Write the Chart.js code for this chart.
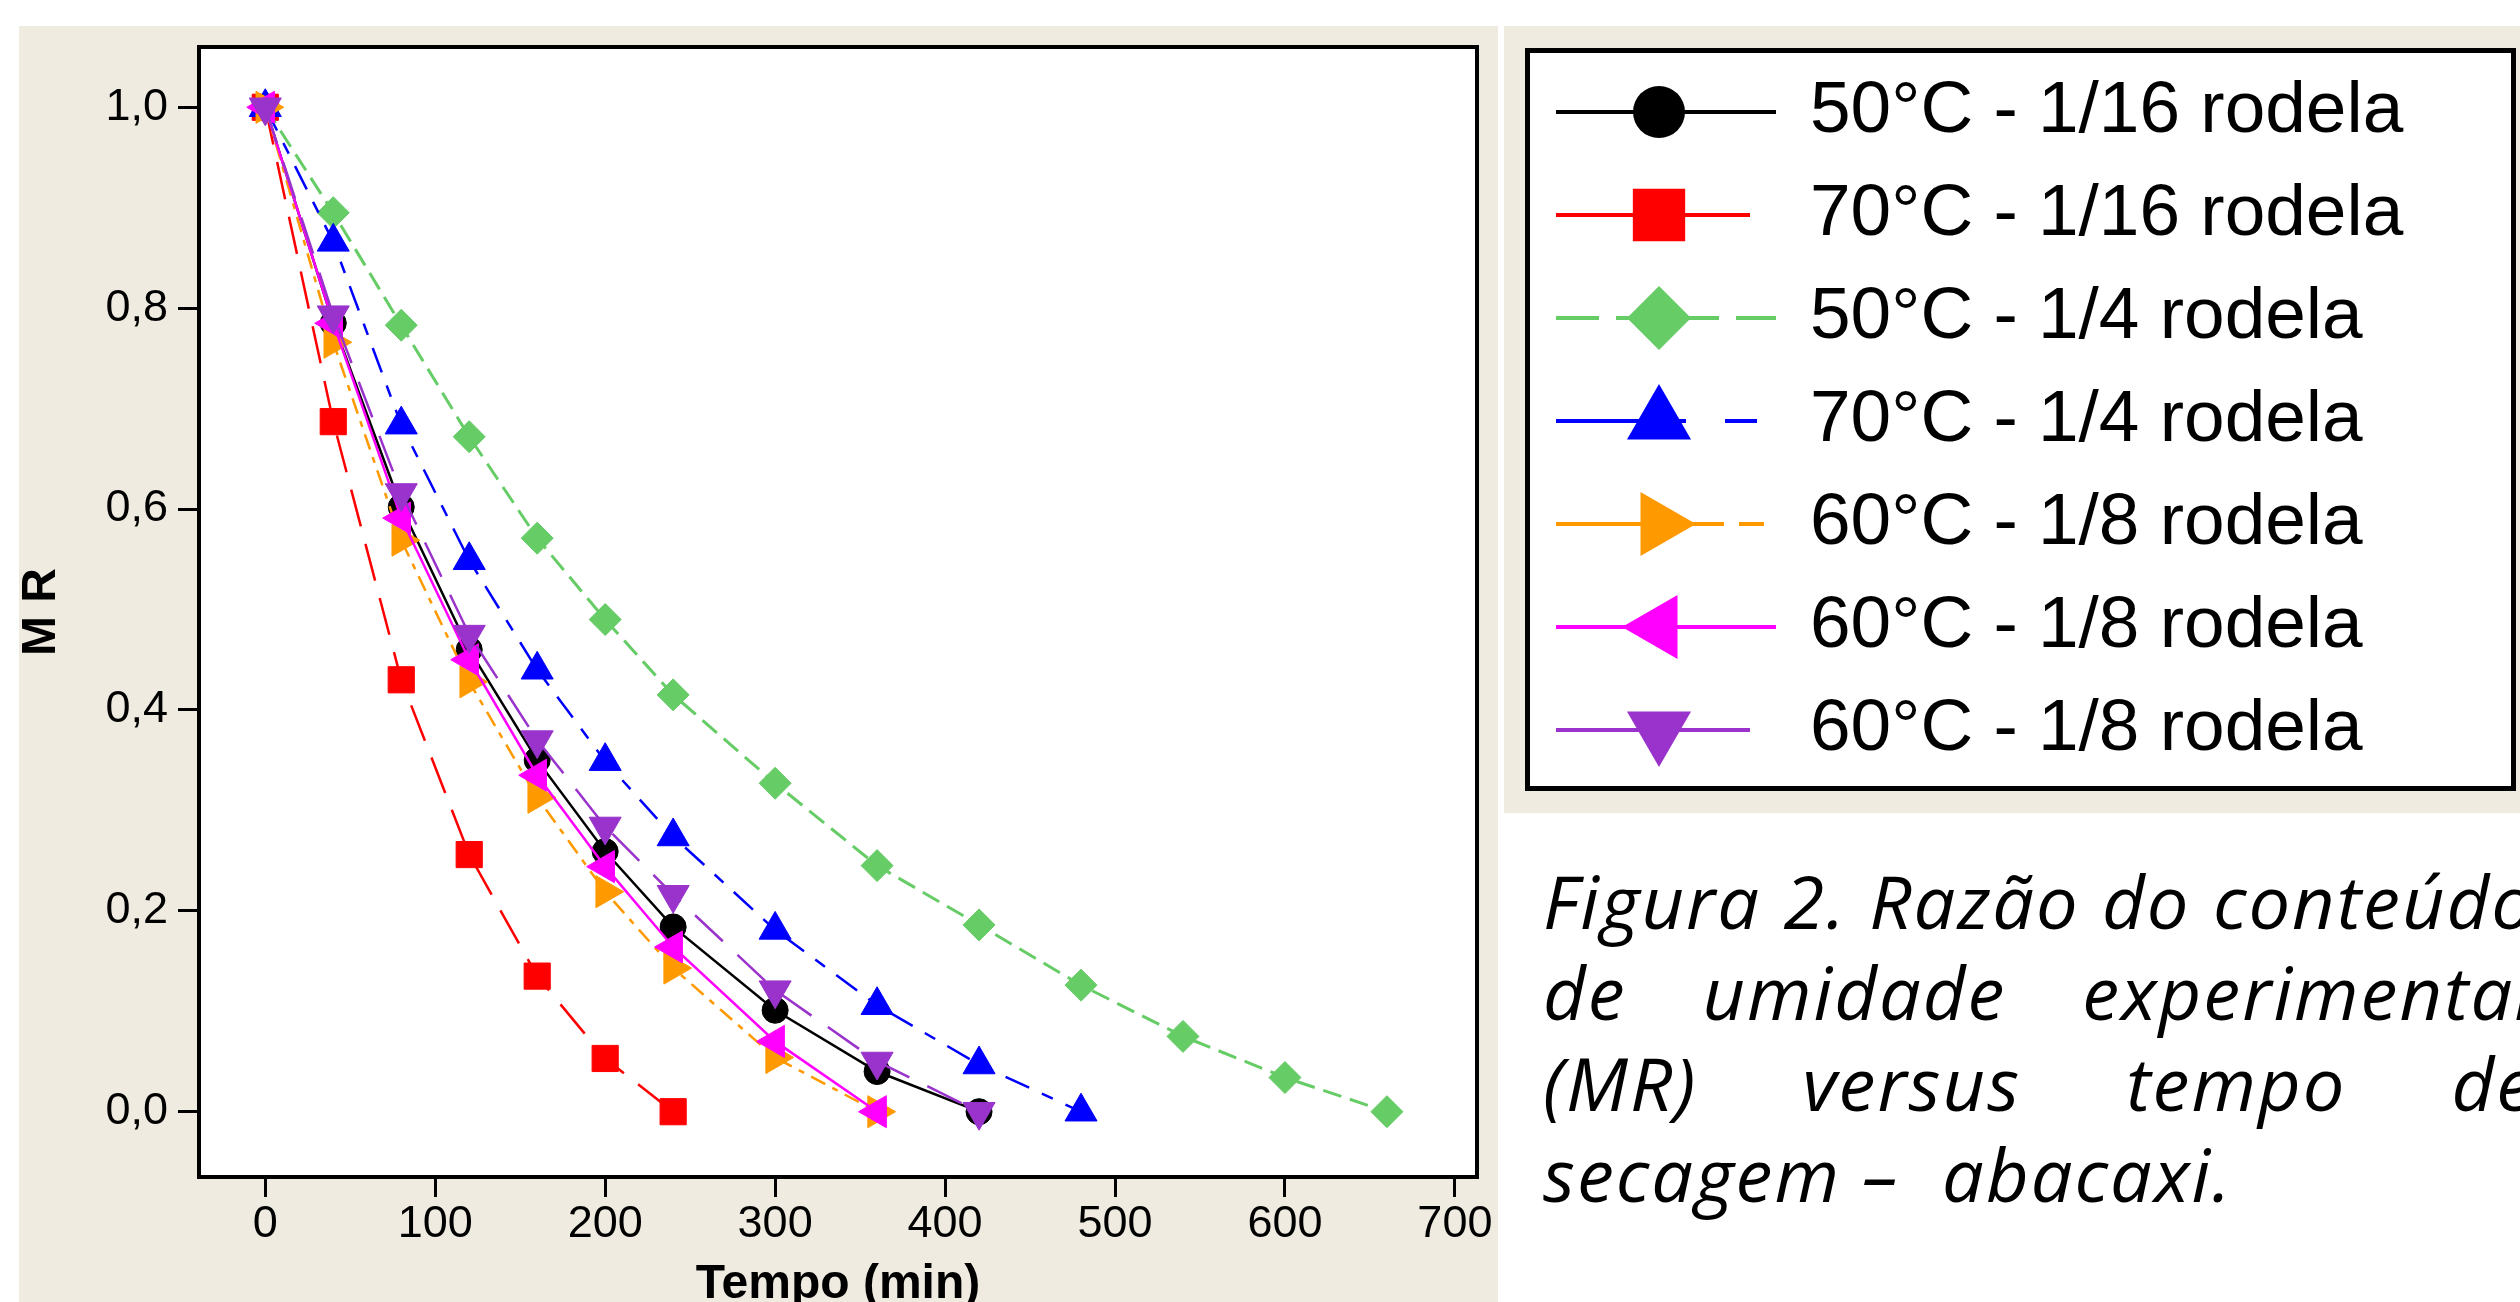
<!DOCTYPE html>
<html lang="pt">
<head>
<meta charset="utf-8">
<title>Figura 2 - MR versus tempo de secagem</title>
<script src="https://cdn.jsdelivr.net/npm/chart.js@4.4.1/dist/chart.umd.min.js"></script>
<style>
  html, body { margin: 0; padding: 0; background: #ffffff; overflow: hidden; }
  body { width: 2520px; height: 1302px; position: relative; }
  #grafico { position: absolute; left: 0; top: 0; }
  .legenda-fig {
    position: absolute; left: 1543px; top: 855px; width: 992px;
    font-family: "Open Sans", sans-serif; font-style: italic;
    font-size: 74px; line-height: 91px; letter-spacing: 2px; color: #000;
  }
  .legenda-fig div { white-space: nowrap; text-align: justify; text-align-last: justify; }
  .legenda-fig div.ultima { text-align-last: left; }
</style>
</head>
<body>
<canvas id="grafico" width="2520" height="1330"></canvas>
<div class="legenda-fig">
  <div>Figura 2. Razão do conteúdo</div>
  <div>de umidade experimental</div>
  <div>(MR) versus tempo de</div>
  <div class="ultima">secagem –&nbsp; abacaxi.</div>
</div>
<script>
// tempos de leitura (min)
var tempo = [0, 40, 80, 120, 160, 200, 240, 300, 360, 420, 480, 540, 600, 660];

// razao de umidade (MR)
var mr50_116 = [1.0, 0.785, 0.602, 0.460, 0.350, 0.259, 0.184, 0.101, 0.040, 0.0];
var mr70_116 = [1.0, 0.687, 0.430, 0.256, 0.135, 0.053, 0.0];
var mr50_14 = [1.0, 0.895, 0.783, 0.672, 0.571, 0.490, 0.415, 0.327, 0.245, 0.186, 0.126, 0.075, 0.034, 0.0];
var mr70_14 = [1.0, 0.866, 0.684, 0.549, 0.440, 0.349, 0.274, 0.181, 0.106, 0.047, 0.0];
var mr60_18a = [1.0, 0.766, 0.569, 0.428, 0.313, 0.219, 0.143, 0.054, 0.0];
var mr60_18b = [1.0, 0.785, 0.591, 0.450, 0.335, 0.244, 0.164, 0.070, 0.0];
var mr60_18c = [1.0, 0.793, 0.616, 0.475, 0.370, 0.284, 0.216, 0.121, 0.050, 0.0];

var rotulos = [
    '50°C - 1/16 rodela',
    '70°C - 1/16 rodela',
    '50°C - 1/4 rodela',
    '70°C - 1/4 rodela',
    '60°C - 1/8 rodela',
    '60°C - 1/8 rodela',
    '60°C - 1/8 rodela'
];

var xTicks = [0, 100, 200, 300, 400, 500, 600, 700];
var yTicks = [0, 0.2, 0.4, 0.6, 0.8, 1.0];
var yTickLabels = ['0,0', '0,2', '0,4', '0,6', '0,8', '1,0'];

var BEGE = '#EFEBE1';
var FONTE = '"Liberation Sans", Arial, sans-serif';

function pontos(mr) {
    return mr.map(function (v, i) {
        return { x: tempo[i], y: v };
    });
}

function serie(label, mr, cor, opts) {
    return Object.assign({
        label: label,
        data: pontos(mr),
        showLine: true,
        tension: 0,
        borderColor: cor,
        backgroundColor: cor,
        pointBackgroundColor: cor,
        pointBorderColor: cor,
        pointBorderWidth: 1,
        borderWidth: 2.5,
        borderDash: [],
        pointRotation: 0,
        legendDash: [],
        legendEnd: 1776
    }, opts);
}

var datasets = [
    serie(rotulos[0], mr50_116, '#000000', { pointStyle: 'circle', pointRadius: 13, order: 6 }),
    serie(rotulos[1], mr70_116, '#FF0000', { pointStyle: 'rect', pointRadius: 18.5, borderDash: [38, 18], legendEnd: 1750, order: 5 }),
    serie(rotulos[2], mr50_14, '#66CC66', { pointStyle: 'rectRot', pointRadius: 16, borderWidth: 3, borderDash: [19, 9], legendDash: [43, 17], order: 4 }),
    serie(rotulos[3], mr70_14, '#0000FF', { pointStyle: 'triangle', pointRadius: 18.5, borderDash: [26, 14, 12, 14], legendDash: [130, 39, 32, 100], order: 3 }),
    serie(rotulos[4], mr60_18a, '#FF9900', { pointStyle: 'triangle', pointRotation: 90, pointRadius: 18.5, borderDash: [16, 8, 6, 8], legendDash: [168, 15, 25, 100], order: 2 }),
    serie(rotulos[5], mr60_18b, '#FF00FF', { pointStyle: 'triangle', pointRotation: -90, pointRadius: 18.5, order: 1 }),
    serie(rotulos[6], mr60_18c, '#9933CC', { pointStyle: 'triangle', pointRotation: 180, pointRadius: 18.5, borderDash: [38, 20], legendEnd: 1750, order: 0 })
];

var moldura = {
    id: 'moldura',
    beforeDraw: function (chart) {
        var ctx = chart.ctx;
        var a = chart.chartArea;
        ctx.save();
        ctx.fillStyle = '#ffffff';
        ctx.fillRect(0, 0, chart.width, chart.height);
        ctx.fillStyle = BEGE;
        ctx.fillRect(19, 26, 1479, chart.height - 26);
        ctx.fillRect(1504, 26, chart.width - 1504, 787);
        ctx.fillStyle = '#ffffff';
        ctx.fillRect(a.left, a.top, a.right - a.left, a.bottom - a.top);
        ctx.restore();
    },
    afterDraw: function (chart) {
        var ctx = chart.ctx;
        var a = chart.chartArea;
        ctx.save();
        ctx.strokeStyle = '#000000';
        ctx.lineWidth = 4;
        ctx.strokeRect(a.left, a.top, a.right - a.left, a.bottom - a.top);

        // caixa da legenda
        ctx.fillStyle = '#ffffff';
        ctx.fillRect(1525, 48, 991, 743);
        ctx.lineWidth = 5;
        ctx.strokeRect(1527.5, 50.5, 986, 738);

        chart.data.datasets.forEach(function (ds, i) {
            var y = 112 + i * 103;
            ctx.lineWidth = 4;
            ctx.strokeStyle = ds.borderColor;
            ctx.setLineDash(ds.legendDash);
            ctx.beginPath();
            ctx.moveTo(1556, y);
            ctx.lineTo(ds.legendEnd, y);
            ctx.stroke();
            ctx.setLineDash([]);
            ctx.fillStyle = ds.pointBackgroundColor;
            Chart.helpers.drawPoint(ctx, {
                pointStyle: ds.pointStyle,
                rotation: ds.pointRotation,
                radius: ds.pointRadius * 2,
                borderWidth: 0
            }, 1659, y);
            ctx.fillStyle = '#000000';
            ctx.font = '73px ' + FONTE;
            ctx.textBaseline = 'middle';
            ctx.textAlign = 'left';
            ctx.fillText(ds.label, 1810, y);
        });
        ctx.restore();
    }
};

new Chart(document.getElementById('grafico'), {
    type: 'scatter',
    data: { datasets: datasets },
    options: {
        responsive: false,
        animation: false,
        devicePixelRatio: 1,
        layout: {
            padding: { left: 18, top: 47, right: 1043, bottom: 0 }
        },
        plugins: {
            legend: { display: false },
            tooltip: { enabled: false }
        },
        scales: {
            x: {
                type: 'linear',
                min: -39,
                max: 713,
                afterBuildTicks: function (scale) {
                    scale.ticks = xTicks.map(function (v) { return { value: v }; });
                },
                afterFit: function (scale) {
                    scale.height = 153;
                },
                border: { display: false },
                grid: {
                    display: true,
                    drawOnChartArea: false,
                    drawTicks: true,
                    tickLength: 20,
                    tickWidth: 3,
                    tickColor: '#000000'
                },
                ticks: {
                    padding: 1,
                    color: '#000000',
                    font: { family: FONTE, size: 45 },
                    maxRotation: 0,
                    callback: function (value) { return String(value); }
                },
                title: {
                    display: true,
                    text: 'Tempo (min)',
                    color: '#000000',
                    font: { family: FONTE, size: 48, weight: 'bold', lineHeight: 1 },
                    padding: { top: 0, bottom: 21 }
                }
            },
            y: {
                type: 'linear',
                min: -0.065,
                max: 1.06,
                afterBuildTicks: function (scale) {
                    scale.ticks = yTicks.map(function (v) { return { value: v }; });
                },
                afterFit: function (scale) {
                    scale.width = 181;
                },
                border: { display: false },
                grid: {
                    display: true,
                    drawOnChartArea: false,
                    drawTicks: true,
                    tickLength: 21,
                    tickWidth: 3,
                    tickColor: '#000000'
                },
                ticks: {
                    padding: 10,
                    color: '#000000',
                    font: { family: FONTE, size: 45 },
                    callback: function (value, index) { return yTickLabels[index]; }
                },
                title: {
                    display: true,
                    text: 'M R',
                    color: '#000000',
                    font: { family: FONTE, size: 48, weight: 'bold', lineHeight: 1 },
                    padding: 0
                }
            }
        }
    },
    plugins: [moldura]
});
</script>
</body>
</html>
